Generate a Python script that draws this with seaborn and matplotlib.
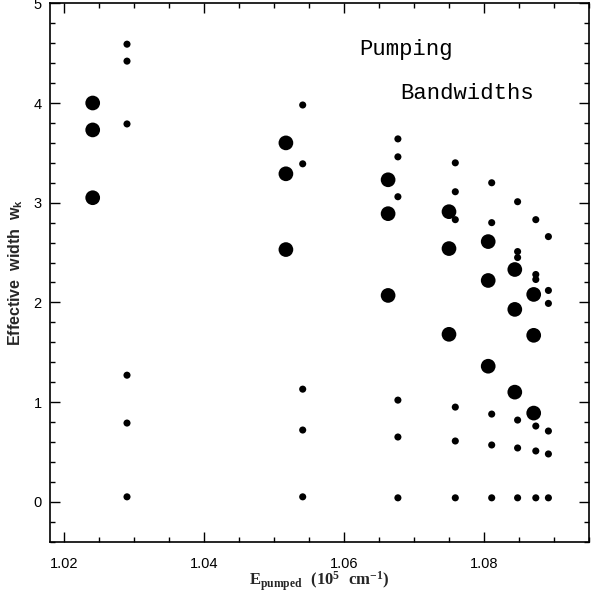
import matplotlib
matplotlib.use("Agg")
import matplotlib.pyplot as plt
import seaborn as sns
import pandas as pd
from matplotlib.ticker import MultipleLocator

# pumped band energies (1e5 cm^-1) and effective widths
big_energy = [1.0241, 1.0517, 1.0663, 1.0750, 1.0806, 1.0844, 1.0871]
big_widths = [
	[4.00, 3.73, 3.05],
	[3.60, 3.29, 2.53],
	[3.23, 2.89, 2.07],
	[2.91, 2.54, 1.68],
	[2.61, 2.22, 1.36],
	[2.33, 1.93, 1.10],
	[2.08, 1.67, 0.89],
]

small_energy = [1.0290, 1.0541, 1.0677, 1.0759, 1.0811, 1.0848, 1.0874, 1.0892]
small_widths = [
	[4.59, 4.42, 3.79, 1.27, 0.79, 0.05],
	[3.98, 3.39, 1.13, 0.72, 0.05],
	[3.64, 3.46, 3.06, 1.02, 0.65, 0.04],
	[3.40, 3.11, 2.83, 0.95, 0.61, 0.04],
	[3.20, 2.80, 0.88, 0.57, 0.04],
	[3.01, 2.51, 2.45, 0.82, 0.54, 0.04],
	[2.83, 2.28, 2.23, 0.76, 0.51, 0.04],
	[2.66, 2.12, 1.99, 0.71, 0.48, 0.04],
]


def set_style():
	sns.set_style("ticks")
	plt.rcParams['font.family'] = ['Liberation Sans', 'DejaVu Sans']
	plt.rcParams['mathtext.fontset'] = 'custom'
	plt.rcParams['mathtext.rm'] = 'Liberation Serif:bold'
	plt.rcParams['mathtext.it'] = 'Liberation Serif:bold'
	plt.rcParams['mathtext.bf'] = 'Liberation Serif:bold'
	plt.rcParams['mathtext.sf'] = 'Liberation Sans:bold'


def to_frame(energies, widths):
	rows = []
	for e, ws in zip(energies, widths):
		for w in ws:
			rows.append({'energy': e, 'width': w})
	return pd.DataFrame(rows)


def make_plot():
	fig = plt.figure(figsize=(5.91, 5.94), dpi=100)
	ax = fig.add_axes([50/591, 52.3/594, 539/591, 538.4/594])

	big = to_frame(big_energy, big_widths)
	small = to_frame(small_energy, small_widths)

	sns.scatterplot(data=big, x='energy', y='width', s=112, color='black',
		edgecolor='none', linewidth=0, ax=ax)
	sns.scatterplot(data=small, x='energy', y='width', s=26, color='black',
		edgecolor='none', linewidth=0, ax=ax)

	ax.set_xlim(1.018, 1.095)
	ax.set_ylim(-0.4, 5.0)
	ax.xaxis.set_major_locator(MultipleLocator(0.02))
	ax.xaxis.set_minor_locator(MultipleLocator(0.005))
	ax.yaxis.set_major_locator(MultipleLocator(1))
	ax.yaxis.set_minor_locator(MultipleLocator(0.2))
	ax.set_xticks([1.02, 1.04, 1.06, 1.08])
	ax.set_xticklabels(['1.02', '1.04', '1.06', '1.08'])
	ax.set_yticks([0, 1, 2, 3, 4, 5])

	ax.tick_params(which='both', direction='in', top=True, right=True,
		color='black', labelsize=10.5, labelcolor='black')
	ax.tick_params(which='major', length=7, width=1)
	ax.tick_params(which='minor', length=3.5, width=1)
	ax.tick_params(axis='x', pad=11)
	ax.tick_params(axis='y', pad=6)
	for sp in ax.spines.values():
		sp.set_visible(True)
		sp.set_color('black')
		sp.set_linewidth(1.2)

	ax.set_xlabel(r'$\mathrm{E_{pumped}\ \ (10^5\ \ cm^{-1})}$', fontsize=12, labelpad=-1)
	ax.set_ylabel(r'$\mathsf{Effective\ \ width\ \ w_k}$', fontsize=11.5, labelpad=6)

	ax.text(1.0622, 4.48, 'Pumping', fontsize=16, family='Liberation Mono',
		color='black')
	ax.text(1.0681, 4.04, 'Bandwidths', fontsize=16, family='Liberation Mono',
		color='black')

	plt.savefig('out.png', dpi=100)
	plt.close(fig)


if __name__ == '__main__':
	set_style()
	make_plot()
